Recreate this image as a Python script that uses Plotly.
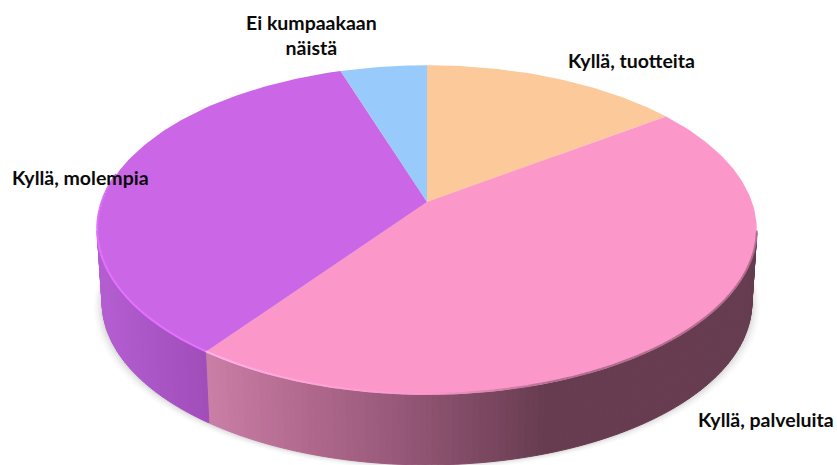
import math
import plotly.graph_objects as go

categories = ["Kyllä, tuotteita", "Kyllä, palveluita", "Kyllä, molempia", "Ei kumpaakaan näistä"]
values = [15, 45, 35, 5]
label_lines = ["Kyllä, tuotteita", "Kyllä, palveluita", "Kyllä, molempia", "<b>Ei kumpaakaan</b><br><b>näistä</b>"]
top_colors = ["#FBC99A", "#FC97CA", "#CB67E6", "#99CAFC"]
# side shading: (screen x, rgb) stops for slices that show a side wall
side_stops = {
    1: [(207, (202, 126, 166)), (300, (178, 106, 142)), (400, (150, 88, 120)), (545, (104, 60, 80)), (760, (102, 60, 80))],
    2: [(97, (180, 94, 210)), (210, (160, 76, 184))],
}
label_pos = [(567, 60, "left"), (697, 419, "left"), (11, 177, "left"), (311, 35, "center")]

CX, CY, A, B, K = 427, 202, 325, 160, 0.17
BOT_DY, BOT_S = 73, 0.985


def project(deg, bottom=False):
    t = math.radians(deg)
    u, v = math.sin(t), -math.cos(t)
    w = 1 - K * v
    x, y = A * u / w, B * v / w
    if bottom:
        return CX + BOT_S * x, CY + BOT_DY + BOT_S * y
    return CX + x, CY + y


def shade(stops, x):
    if x <= stops[0][0]:
        return stops[0][1]
    for (x0, c0), (x1, c1) in zip(stops, stops[1:]):
        if x <= x1:
            f = (x - x0) / (x1 - x0)
            return tuple(c0[i] + f * (c1[i] - c0[i]) for i in range(3))
    return stops[-1][1]


def rgb(c):
    return "rgb(%d,%d,%d)" % tuple(round(v) for v in c)


def poly(xs, ys, color):
    return go.Scatter(x=xs, y=ys, mode="lines", fill="toself", fillcolor=color,
                      line=dict(color=color, width=1), hoverinfo="skip", showlegend=False)


fig = go.Figure()
total = sum(values)
edges = [0]
for val in values:
    edges.append(edges[-1] + val / total * 360)

# soft drop shadow below the pie
angles = [i * 2 for i in range(181)]
for grow, alpha in [(8, 0.03), (6, 0.04), (4, 0.06), (2, 0.08)]:
    pts = [project(a, True) for a in angles]
    xs = [CX + (x - CX) * (1 + grow / 325) for x, _ in pts]
    ys = [y + grow * 0.6 for _, y in pts]
    col = "rgba(90,90,90,%s)" % alpha
    fig.add_trace(go.Scatter(x=xs, y=ys, mode="lines", fill="toself", fillcolor=col,
                             line=dict(width=0), hoverinfo="skip", showlegend=False))

# side walls
for idx, stops in side_stops.items():
    start, end = max(edges[idx], 100), min(edges[idx + 1], 260)
    n = int((end - start) / 1.0) + 1
    step = (end - start) / n
    for j in range(n):
        a0, a1 = start + j * step, start + (j + 1) * step
        t0, t1 = project(a0), project(a1)
        b0, b1 = project(a0, True), project(a1, True)
        color = rgb(shade(stops, (t0[0] + t1[0]) / 2))
        fig.add_trace(poly([t0[0], t1[0], b1[0], b0[0], t0[0]],
                           [t0[1], t1[1], b1[1], b0[1], t0[1]], color))

# top faces
for i, color in enumerate(top_colors):
    a0, a1 = edges[i], edges[i + 1]
    n = max(int(a1 - a0), 2)
    pts = [project(a0 + (a1 - a0) * j / n) for j in range(n + 1)]
    xs = [CX] + [p[0] for p in pts] + [CX]
    ys = [CY] + [p[1] for p in pts] + [CY]
    fig.add_trace(go.Scatter(x=xs, y=ys, mode="lines", fill="toself", fillcolor=color,
                             line=dict(width=0), hoverinfo="skip", showlegend=False))

# bevelled rim along the front edge
PINK, PURPLE = (252, 151, 202), (203, 103, 230)
rim = [
    (101, 160, (178, 108, 142), (178, 108, 142)),
    (160, 180, (178, 108, 142), PINK),
    (180, edges[2], PINK, (255, 178, 236)),
    (edges[2], 258, (226, 114, 255), (226, 114, 255)),
    (258, 280, (226, 114, 255), PURPLE),
]
for a0, a1, c0, c1 in rim:
    n = int(a1 - a0)
    for j in range(n):
        f = j / max(n - 1, 1)
        c = tuple(c0[k] + f * (c1[k] - c0[k]) for k in range(3))
        p0, p1 = project(a0 + j), project(a0 + j + 1)
        fig.add_trace(go.Scatter(x=[p0[0], p1[0]], y=[p0[1] - 1, p1[1] - 1], mode="lines",
                                 line=dict(color=rgb(c), width=2), hoverinfo="skip", showlegend=False))

for text, (x, y, anchor) in zip(label_lines, label_pos):
    shown = text if text.startswith("<b>") else "<b>%s</b>" % text
    fig.add_annotation(x=x, y=y, text=shown, showarrow=False, xanchor=anchor, yanchor="middle",
                       align="center", font=dict(family="Lato", size=19.5, color="#0a0a0a"),
                       xshift=-1 if anchor == "left" else 0)

fig.update_layout(
    width=837, height=465, margin=dict(l=0, r=0, t=0, b=0),
    paper_bgcolor="white", plot_bgcolor="white", showlegend=False,
    xaxis=dict(range=[0, 837], visible=False, fixedrange=True),
    yaxis=dict(range=[465, 0], visible=False, fixedrange=True),
)
fig.write_html("out.html", config={"displayModeBar": False},
               post_script="document.body.style.margin='0';document.documentElement.style.overflow='hidden';")
